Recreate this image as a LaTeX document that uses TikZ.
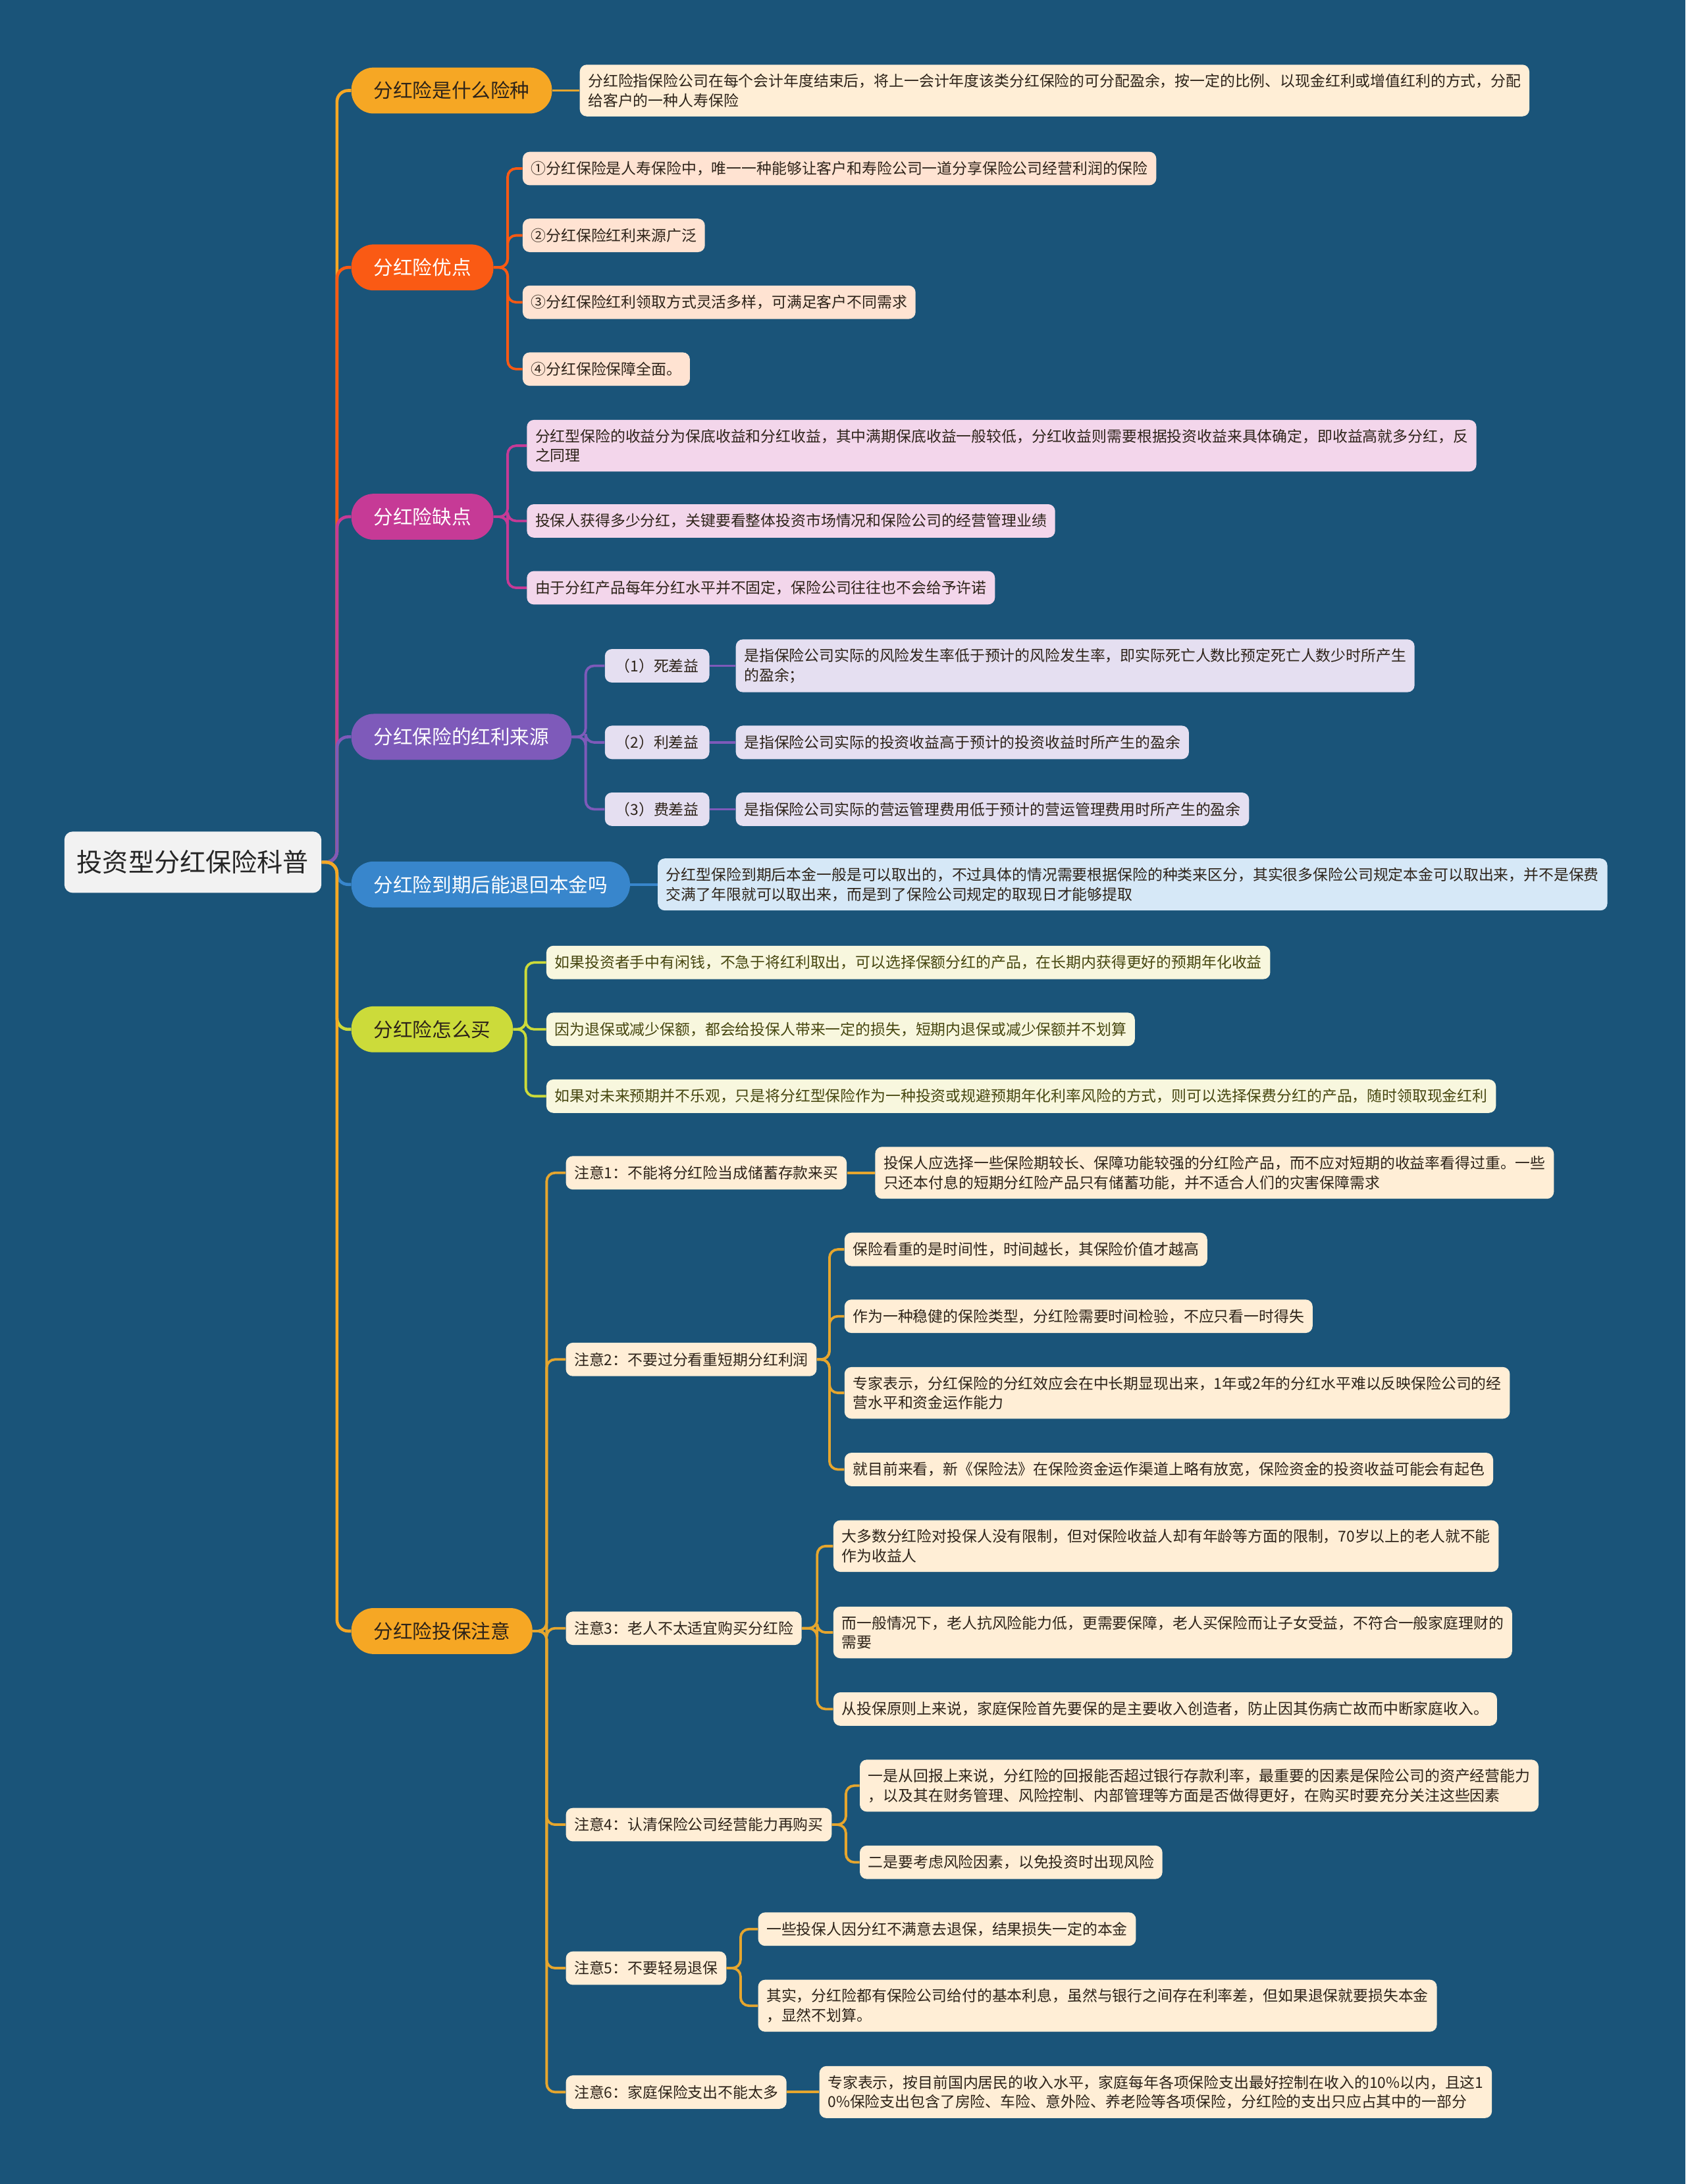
\documentclass[tikz,border=0pt]{standalone}
\usepackage{fontspec}
\setmainfont{Noto Sans CJK SC}
\definecolor{bg}{RGB}{26,84,121}
\definecolor{gold}{RGB}{246,167,36}
\definecolor{goldline}{RGB}{230,166,46}
\definecolor{redor}{RGB}{250,90,20}
\definecolor{rose}{RGB}{198,58,150}
\definecolor{purp}{RGB}{126,90,186}
\definecolor{bluea}{RGB}{56,134,204}
\definecolor{limeb}{RGB}{204,219,58}
\definecolor{cream}{RGB}{255,238,214}
\definecolor{peach}{RGB}{255,227,210}
\definecolor{pinkl}{RGB}{243,214,235}
\definecolor{lavl}{RGB}{229,223,241}
\definecolor{bluel}{RGB}{214,232,247}
\definecolor{yell}{RGB}{248,247,222}
\definecolor{rootgray}{RGB}{242,242,242}
\definecolor{ink}{RGB}{45,35,25}
\definecolor{olive}{RGB}{70,70,15}
\tikzset{
  rootbox/.style={anchor=west, fill=rootgray, text=black!85, rounded corners=6pt, minimum height=44pt, inner xsep=9pt, font=\fontsize{18.5}{20}\selectfont},
  branch/.style={anchor=west, rounded corners=16pt, minimum height=33pt, inner xsep=16pt, text=white, font=\fontsize{14}{16}\selectfont},
  leaf/.style={anchor=west, rounded corners=5pt, minimum height=24pt, inner xsep=6pt, inner ysep=6.5pt, align=left, text=ink, font=\fontsize{10.8}{14}\selectfont},
  gain/.style={leaf, fill=lavl, minimum width=75pt, align=center},
  link/.style={line width=2.2pt, rounded corners=8pt},
  twig/.style={line width=1.8pt, rounded corners=6pt}
}
\begin{document}
\begin{tikzpicture}[x=1pt,y=-1pt]
\useasboundingbox (0,0) rectangle (1210,1568);
\fill[bg] (0,0) rectangle (1210,1568);
\node[rootbox] (root) at (46,619) {投资型分红保险科普};
% main branches
\node[branch, fill=gold, text=ink] (b1) at (252,65) {分红险是什么险种};
\node[branch, fill=redor] (b2) at (252,192) {分红险优点};
\node[branch, fill=rose] (b3) at (252,371) {分红险缺点};
\node[branch, fill=purp] (b4) at (252,529) {分红保险的红利来源};
\node[branch, fill=bluea] (b5) at (252,635) {分红险到期后能退回本金吗};
\node[branch, fill=limeb, text=ink] (b6) at (252,739) {分红险怎么买};
\node[branch, fill=gold, text=ink] (b7) at (252,1171) {分红险投保注意};
% leaves
\node[leaf, fill=cream] (l1) at (416,65) {分红险指保险公司在每个会计年度结束后，将上一会计年度该类分红保险的可分配盈余，按一定的比例、以现金红利或增值红利的方式，分配\\给客户的一种人寿保险};
\node[leaf, fill=peach] (l21) at (375,121) {①分红保险是人寿保险中，唯一一种能够让客户和寿险公司一道分享保险公司经营利润的保险};
\node[leaf, fill=peach] (l22) at (375,169) {②分红保险红利来源广泛};
\node[leaf, fill=peach] (l23) at (375,217) {③分红保险红利领取方式灵活多样，可满足客户不同需求};
\node[leaf, fill=peach] (l24) at (375,265) {④分红保险保障全面。};
\node[leaf, fill=pinkl] (l31) at (378,320) {分红型保险的收益分为保底收益和分红收益，其中满期保底收益一般较低，分红收益则需要根据投资收益来具体确定，即收益高就多分红，反\\之同理};
\node[leaf, fill=pinkl] (l32) at (378,374) {投保人获得多少分红，关键要看整体投资市场情况和保险公司的经营管理业绩};
\node[leaf, fill=pinkl] (l33) at (378,422) {由于分红产品每年分红水平并不固定，保险公司往往也不会给予许诺};
\node[gain] (m41) at (434,478) {（1）死差益};
\node[gain] (m42) at (434,533) {（2）利差益};
\node[gain] (m43) at (434,581) {（3）费差益};
\node[leaf, fill=lavl] (l41) at (528,478) {是指保险公司实际的风险发生率低于预计的风险发生率，即实际死亡人数比预定死亡人数少时所产生\\的盈余；};
\node[leaf, fill=lavl] (l42) at (528,533) {是指保险公司实际的投资收益高于预计的投资收益时所产生的盈余};
\node[leaf, fill=lavl] (l43) at (528,581) {是指保险公司实际的营运管理费用低于预计的营运管理费用时所产生的盈余};
\node[leaf, fill=bluel] (l5) at (472,635) {分红型保险到期后本金一般是可以取出的，不过具体的情况需要根据保险的种类来区分，其实很多保险公司规定本金可以取出来，并不是保费\\交满了年限就可以取出来，而是到了保险公司规定的取现日才能够提取};
\node[leaf, fill=yell, text=olive] (l61) at (392,691) {如果投资者手中有闲钱，不急于将红利取出，可以选择保额分红的产品，在长期内获得更好的预期年化收益};
\node[leaf, fill=yell, text=olive] (l62) at (392,739) {因为退保或减少保额，都会给投保人带来一定的损失，短期内退保或减少保额并不划算};
\node[leaf, fill=yell, text=olive] (l63) at (392,787) {如果对未来预期并不乐观，只是将分红型保险作为一种投资或规避预期年化利率风险的方式，则可以选择保费分红的产品，随时领取现金红利};
\node[leaf, fill=cream] (m71) at (406,842) {注意1：不能将分红险当成储蓄存款来买};
\node[leaf, fill=cream] (m72) at (406,976) {注意2：不要过分看重短期分红利润};
\node[leaf, fill=cream] (m73) at (406,1169) {注意3：老人不太适宜购买分红险};
\node[leaf, fill=cream] (m74) at (406,1310) {注意4：认清保险公司经营能力再购买};
\node[leaf, fill=cream] (m75) at (406,1413) {注意5：不要轻易退保};
\node[leaf, fill=cream] (m76) at (406,1502) {注意6：家庭保险支出不能太多};
\node[leaf, fill=cream] (l711) at (628,842) {投保人应选择一些保险期较长、保障功能较强的分红险产品，而不应对短期的收益率看得过重。一些\\只还本付息的短期分红险产品只有储蓄功能，并不适合人们的灾害保障需求};
\node[leaf, fill=cream] (l721) at (606,897) {保险看重的是时间性，时间越长，其保险价值才越高};
\node[leaf, fill=cream] (l722) at (606,945) {作为一种稳健的保险类型，分红险需要时间检验，不应只看一时得失};
\node[leaf, fill=cream] (l723) at (606,1000) {专家表示，分红保险的分红效应会在中长期显现出来，1年或2年的分红水平难以反映保险公司的经\\营水平和资金运作能力};
\node[leaf, fill=cream] (l724) at (606,1055) {就目前来看，新《保险法》在保险资金运作渠道上略有放宽，保险资金的投资收益可能会有起色};
\node[leaf, fill=cream] (l731) at (598,1110) {大多数分红险对投保人没有限制，但对保险收益人却有年龄等方面的限制，70岁以上的老人就不能\\作为收益人};
\node[leaf, fill=cream] (l732) at (598,1172) {而一般情况下，老人抗风险能力低，更需要保障，老人买保险而让子女受益，不符合一般家庭理财的\\需要};
\node[leaf, fill=cream] (l733) at (598,1227) {从投保原则上来说，家庭保险首先要保的是主要收入创造者，防止因其伤病亡故而中断家庭收入。};
\node[leaf, fill=cream] (l741) at (617,1282) {一是从回报上来说，分红险的回报能否超过银行存款利率，最重要的因素是保险公司的资产经营能力\\，以及其在财务管理、风险控制、内部管理等方面是否做得更好，在购买时要充分关注这些因素};
\node[leaf, fill=cream] (l742) at (617,1337) {二是要考虑风险因素，以免投资时出现风险};
\node[leaf, fill=cream] (l751) at (544,1385) {一些投保人因分红不满意去退保，结果损失一定的本金};
\node[leaf, fill=cream] (l752) at (544,1440) {其实，分红险都有保险公司给付的基本利息，虽然与银行之间存在利率差，但如果退保就要损失本金\\，显然不划算。};
\node[leaf, fill=cream] (l761) at (588,1502) {专家表示，按目前国内居民的收入水平，家庭每年各项保险支出最好控制在收入的10\%以内，且这1\\0\%保险支出包含了房险、车险、意外险、养老险等各项保险，分红险的支出只应占其中的一部分};
% connectors
\draw[link, gold] (root.east) -- ++(11,0) |- (b1.west);
\draw[link, redor] (root.east) -- ++(11,0) |- (b2.west);
\draw[link, rose] (root.east) -- ++(11,0) |- (b3.west);
\draw[link, purp] (root.east) -- ++(11,0) |- (b4.west);
\draw[link, bluea] (root.east) -- ++(11,0) |- (b5.west);
\draw[link, limeb] (root.east) -- ++(11,0) |- (b6.west);
\draw[link, gold] (root.east) -- ++(11,0) |- (b7.west);
\draw[twig, goldline] (b1.east) -- (l1.west);
\foreach \n in {l21,l22,l23,l24} {\draw[twig, redor] (b2.east) -- ++(10,0) |- (\n.west);}
\foreach \n in {l31,l32,l33} {\draw[twig, rose] (b3.east) -- ++(10,0) |- (\n.west);}
\foreach \i in {1,2,3} {\draw[twig, purp] (b4.east) -- ++(10,0) |- (m4\i.west);\draw[twig, purp] (m4\i.east) -- (l4\i.west);}
\draw[twig, bluea] (b5.east) -- (l5.west);
\foreach \n in {l61,l62,l63} {\draw[twig, limeb] (b6.east) -- ++(9,0) |- (\n.west);}
\foreach \i in {1,...,6} {\draw[twig, goldline] (b7.east) -- ++(10,0) |- (m7\i.west);}
\draw[twig, goldline] (m71.east) -- (l711.west);
\foreach \n in {l721,l722,l723,l724} {\draw[twig, goldline] (m72.east) -- ++(9,0) |- (\n.west);}
\foreach \n in {l731,l732,l733} {\draw[twig, goldline] (m73.east) -- ++(11,0) |- (\n.west);}
\foreach \n in {l741,l742} {\draw[twig, goldline] (m74.east) -- ++(10,0) |- (\n.west);}
\foreach \n in {l751,l752} {\draw[twig, goldline] (m75.east) -- ++(10,0) |- (\n.west);}
\draw[twig, goldline] (m76.east) -- (l761.west);
\end{tikzpicture}
\end{document}
